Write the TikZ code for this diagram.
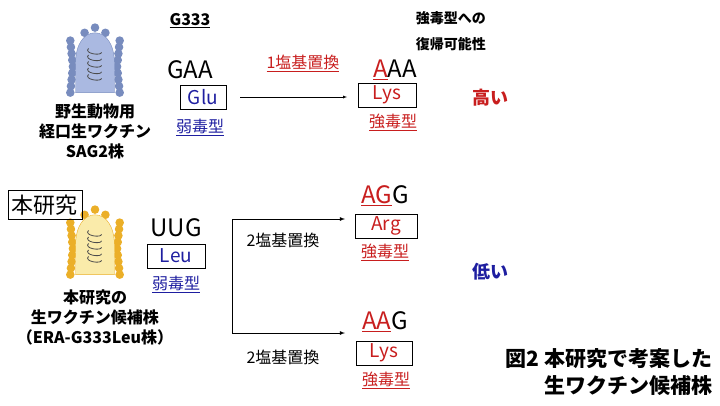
\documentclass[tikz,border=0pt]{standalone}
\usepackage{fontspec}
\setmainfont{Noto Sans CJK JP}
\usepackage{xcolor}
\usetikzlibrary{positioning}
\definecolor{redtxt}{RGB}{200,30,30}
\definecolor{bluetxt}{RGB}{30,30,160}
\definecolor{vblue}{RGB}{170,185,225}
\definecolor{vblueknob}{RGB}{120,140,190}
\definecolor{vyellow}{RGB}{250,235,170}
\definecolor{vyellowknob}{RGB}{235,175,40}
\tikzset{
  codon/.style={inner sep=0.75pt,font=\fontsize{24}{24}\selectfont},
  aabox/.style={draw,thick,minimum width=58pt,minimum height=24pt,inner sep=1pt,font=\fontsize{19}{19}\selectfont},
  plain/.style={inner sep=0.75pt,align=center,font=\fontsize{16}{19}\selectfont},
  bold/.style={plain,font=\bfseries\fontsize{16}{20}\selectfont},
}
\newcommand{\ul}[1]{\underline{#1}}
\newcommand{\virus}[3]{% center, body colour, knob colour
  \begin{scope}[shift={#1},scale=1.3]
    \foreach \a in {-4,...,4}{
      \fill[#3] ({-17-2*abs(\a)/4},{\a*5+2}) circle (3.3);
      \fill[#3] ({17+2*abs(\a)/4},{\a*5+2}) circle (3.3);}
    \fill[#3] (0,-28) circle (3.3) (-8,-24) circle (3.3) (8,-24) circle (3.3);
    \draw[#3,fill=#2] (-15,22) -- (-15,0) .. controls (-15,-16) and (-8,-24) .. (0,-24)
      .. controls (8,-24) and (15,-16) .. (15,0) -- (15,22) -- cycle;
    \foreach \k in {0,...,4}
      \draw[black!70,thick] (-5,{-12+\k*5}) .. controls (-9,{-8+\k*5}) and (5,{-6+\k*5}) .. (5,{-9+\k*5});
  \end{scope}}
\begin{document}
\begin{tikzpicture}[x=1pt,y=-1pt]
\useasboundingbox (0,0) rectangle (720,405);
% icons
\virus{(95,64)}{vblue}{vblueknob}
\virus{(95,246)}{vyellow}{vyellowknob}
% upper strain
\node[bold] (sag) at (95,131) {野生動物用\\経口生ワクチン\\SAG2株};
\node[bold] (g333) at (190,21) {\ul{G333}};
\node[codon] (gaa) at (190,70) {GAA};
\node[aabox,text=bluetxt,minimum width=46pt] (glu) at (203,97) {Glu};
\node[plain,text=bluetxt] (wk1) at (200,127) {\ul{弱毒型}};
\node[codon] (aaa) at (395,70) {\textcolor{redtxt}{\ul{A}}AA};
\node[aabox,text=redtxt] (lys1) at (387,95) {Lys};
\node[plain,text=redtxt] (st1) at (393,122) {\ul{強毒型}};
\coordinate (s1) at (240,97);
\coordinate (e1) at (347,97);
\draw[-latex] (s1) -- (e1);
\node[plain,text=redtxt] (sub1) at (303,63) {\ul{1塩基置換}};
% header
\node[bold,anchor=west,align=left,font=\bfseries\fontsize{14}{26}\selectfont] (head) at (415,31) {強毒型への\\復帰可能性};
\node[bold,text=redtxt,font=\bfseries\fontsize{18}{18}\selectfont] (high) at (490,98) {高い};
\node[bold,text=bluetxt,font=\bfseries\fontsize{18}{18}\selectfont] (low) at (490,272) {低い};
% lower strain
\node[draw,thick,inner sep=4pt,font=\fontsize{22}{22}\selectfont] (this) at (45,205) {本研究};
\node[bold] (era) at (95,317) {本研究の\\生ワクチン候補株\\（ERA-G333Leu株）};
\node[codon] (uug) at (176,228) {UUG};
\node[aabox,text=bluetxt] (leu) at (176,256) {Leu};
\node[plain,text=bluetxt] (wk2) at (176,284) {\ul{弱毒型}};
\node[codon] (agg) at (385,196) {\textcolor{redtxt}{\ul{AG}}G};
\node[aabox,text=redtxt,minimum width=62pt] (arg) at (386,226) {Arg};
\node[plain,text=redtxt] (st2) at (385,252) {\ul{強毒型}};
\node[codon] (aag) at (385,322) {\textcolor{redtxt}{\ul{AA}}G};
\node[aabox,text=redtxt,minimum width=56pt] (lys2) at (384,353) {Lys};
\node[plain,text=redtxt] (st3) at (386,380) {\ul{強毒型}};
\coordinate (bt) at (232,219);
\coordinate (bb) at (232,333);
\draw[-latex,thick] (bb) -- (bt) -- (345,219);
\draw[-latex,thick] (bb) -- (345,333);
\node[plain] (sub2) at (283,240) {2塩基置換};
\node[plain] (sub3) at (283,357) {2塩基置換};
% caption
\node[bold,anchor=east,align=right,font=\bfseries\fontsize{21}{27}\selectfont] (cap) at (713,372) {図2 本研究で考案した\\生ワクチン候補株};
\end{tikzpicture}
\end{document}
